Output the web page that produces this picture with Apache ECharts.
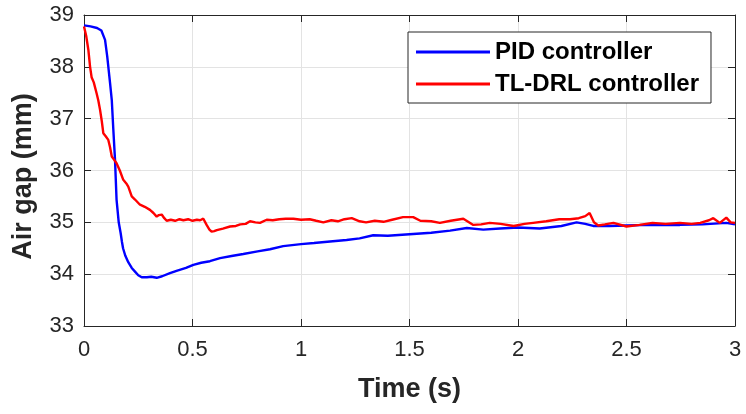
<!DOCTYPE html>
<html>
<head>
<meta charset="utf-8">
<script src="https://cdn.jsdelivr.net/npm/echarts@6/dist/echarts.min.js"></script>
<style>html,body{margin:0;padding:0;background:#fff}#c{width:746px;height:414px}</style>
</head>
<body>
<div id="c"></div>
<script>
var xTicks = [0, 0.5, 1, 1.5, 2, 2.5, 3];
var yTicks = [33, 34, 35, 36, 37, 38, 39];
var seriesNames = ['PID controller', 'TL-DRL controller'];

var pidTime = [0, 0.03, 0.06, 0.08, 0.097, 0.107, 0.12, 0.128, 0.135, 0.143, 0.15, 0.16, 0.169, 0.175, 0.18, 0.19, 0.204, 0.22, 0.235, 0.25, 0.266, 0.29, 0.31, 0.335, 0.36, 0.396, 0.43, 0.47, 0.504, 0.54, 0.58, 0.627, 0.68, 0.734, 0.8, 0.857, 0.918, 1.0, 1.06, 1.134, 1.21, 1.27, 1.333, 1.40, 1.5, 1.6, 1.687, 1.764, 1.84, 1.917, 2.0, 2.1, 2.2, 2.27, 2.31, 2.347, 2.42, 2.5, 2.6, 2.746, 2.85, 2.96, 3.0];
var pidValues = [38.8, 38.78, 38.75, 38.7, 38.52, 38.2, 37.69, 37.36, 36.8, 36.2, 35.44, 35.0, 34.79, 34.62, 34.5, 34.36, 34.23, 34.12, 34.05, 33.98, 33.94, 33.94, 33.95, 33.93, 33.96, 34.02, 34.07, 34.12, 34.18, 34.22, 34.25, 34.31, 34.35, 34.39, 34.44, 34.48, 34.54, 34.58, 34.6, 34.63, 34.66, 34.69, 34.75, 34.74, 34.77, 34.80, 34.84, 34.89, 34.86, 34.88, 34.9, 34.88, 34.93, 35.0, 34.97, 34.93, 34.93, 34.94, 34.95, 34.95, 34.96, 34.99, 34.96];

var drlTime = [0, 0.01, 0.02, 0.028, 0.035, 0.045, 0.058, 0.066, 0.074, 0.082, 0.089, 0.1, 0.112, 0.12, 0.128, 0.14, 0.15, 0.165, 0.181, 0.195, 0.204, 0.22, 0.235, 0.258, 0.28, 0.304, 0.32, 0.335, 0.345, 0.358, 0.37, 0.381, 0.40, 0.42, 0.44, 0.458, 0.48, 0.5, 0.52, 0.535, 0.55, 0.565, 0.578, 0.588, 0.60, 0.612, 0.64, 0.673, 0.70, 0.72, 0.745, 0.765, 0.79, 0.811, 0.842, 0.87, 0.9, 0.93, 0.965, 1.0, 1.04, 1.07, 1.103, 1.14, 1.17, 1.2, 1.234, 1.27, 1.30, 1.34, 1.38, 1.42, 1.47, 1.517, 1.55, 1.6, 1.64, 1.69, 1.748, 1.794, 1.83, 1.87, 1.92, 1.98, 2.03, 2.07, 2.13, 2.19, 2.24, 2.28, 2.31, 2.33, 2.35, 2.37, 2.4, 2.44, 2.5, 2.56, 2.62, 2.68, 2.746, 2.8, 2.84, 2.88, 2.9, 2.93, 2.96, 2.98, 3.0];
var drlValues = [38.78, 38.6, 38.33, 38.0, 37.8, 37.7, 37.49, 37.35, 37.17, 36.95, 36.72, 36.66, 36.59, 36.45, 36.27, 36.2, 36.14, 36.0, 35.82, 35.75, 35.69, 35.5, 35.44, 35.34, 35.3, 35.24, 35.18, 35.11, 35.14, 35.15, 35.08, 35.03, 35.05, 35.03, 35.06, 35.04, 35.06, 35.03, 35.05, 35.04, 35.07, 34.95, 34.86, 34.82, 34.83, 34.85, 34.88, 34.92, 34.93, 34.96, 34.97, 35.02, 35.0, 34.99, 35.05, 35.04, 35.06, 35.07, 35.07, 35.05, 35.06, 35.03, 35.0, 35.04, 35.02, 35.06, 35.08, 35.02, 35.0, 35.03, 35.01, 35.05, 35.1, 35.1, 35.03, 35.02, 34.99, 35.03, 35.07, 34.95, 34.96, 34.99, 34.97, 34.93, 34.97, 34.99, 35.02, 35.06, 35.06, 35.08, 35.12, 35.18, 35.0, 34.94, 34.96, 34.99, 34.92, 34.95, 34.99, 34.97, 34.99, 34.97, 34.99, 35.04, 35.08, 34.99, 35.09, 35.0, 34.99];

function pairs(t, v) { return t.map(function (x, i) { return [x, v[i]]; }); }

var FONT = '"Liberation Sans", Arial, sans-serif';
var TXT = '#262626';
var chart = echarts.init(document.getElementById('c'), null, {renderer: 'canvas'});

var baseX = {
  type: 'value', min: xTicks[0], max: xTicks[xTicks.length - 1], interval: 0.5,
  axisLine: {show: true, onZero: false, lineStyle: {color: TXT, width: 1}},
  axisTick: {show: true, inside: true, length: 7, lineStyle: {color: TXT}},
  splitLine: {show: false}
};
var baseY = {
  type: 'value', min: yTicks[0], max: yTicks[yTicks.length - 1], interval: 1,
  axisLine: {show: true, onZero: false, lineStyle: {color: TXT, width: 1}},
  axisTick: {show: true, inside: true, length: 7, lineStyle: {color: TXT}},
  splitLine: {show: false}
};

chart.setOption({
  backgroundColor: '#fff',
  animation: false,
  grid: {left: 84, right: 11, top: 15, bottom: 88},
  legend: {
    orient: 'vertical', left: 408, top: 32,
    padding: [8, 12, 7, 8], itemGap: 8,
    itemWidth: 74, itemHeight: 3, icon: 'rect',
    borderColor: TXT, borderWidth: 1, backgroundColor: '#fff',
    textStyle: {fontFamily: FONT, fontSize: 24, fontWeight: 'bold', color: '#000', lineHeight: 24},
    data: seriesNames
  },
  xAxis: [
    Object.assign({}, baseX, {
      position: 'bottom',
      splitLine: {show: true, lineStyle: {color: '#e3e3e3', width: 1}},
      axisLabel: {fontFamily: FONT, fontSize: 22, color: TXT, margin: 13,
        formatter: function (v) { return String(v); }},
      name: 'Time (s)', nameLocation: 'middle', nameGap: 50,
      nameTextStyle: {fontFamily: FONT, fontSize: 27, fontWeight: 'bold', color: TXT}
    }),
    Object.assign({}, baseX, {position: 'top', axisLabel: {show: false}})
  ],
  yAxis: [
    Object.assign({}, baseY, {
      position: 'left',
      splitLine: {show: true, lineStyle: {color: '#e3e3e3', width: 1}},
      axisLabel: {fontFamily: FONT, fontSize: 22, color: TXT, margin: 10},
      name: 'Air gap (mm)', nameLocation: 'middle', nameGap: 47,
      nameTextStyle: {fontFamily: FONT, fontSize: 27, fontWeight: 'bold', color: TXT, padding: [0, 12, 0, 0]}
    }),
    Object.assign({}, baseY, {position: 'right', axisLabel: {show: false}})
  ],
  series: [
    {
      name: seriesNames[0], type: 'line', data: pairs(pidTime, pidValues),
      symbol: 'none', smooth: false, z: 3,
      lineStyle: {color: '#0000ff', width: 2.4}, itemStyle: {color: '#0000ff'}
    },
    {
      name: seriesNames[1], type: 'line', data: pairs(drlTime, drlValues),
      symbol: 'none', smooth: false, z: 4,
      lineStyle: {color: '#ff0000', width: 2.4}, itemStyle: {color: '#ff0000'}
    }
  ]
});
</script>
</body>
</html>
